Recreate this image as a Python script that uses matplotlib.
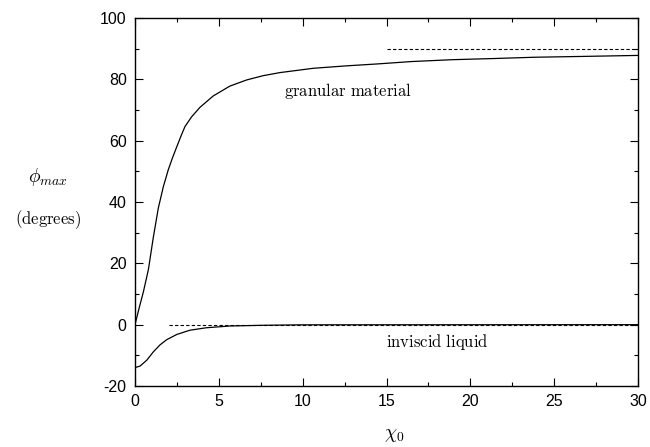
import matplotlib
matplotlib.use("Agg")
import matplotlib.pyplot as plt
from matplotlib.ticker import MultipleLocator

plt.rcParams['mathtext.fontset'] = 'cm'
plt.rcParams['font.family'] = ['Liberation Sans', 'DejaVu Sans']

# granular material curve
gran_x = [0, 0.25, 0.5, 0.8, 1.09, 1.39, 1.69, 1.99, 2.25, 2.49, 2.75, 2.98,
          3.38, 3.88, 4.67, 5.66, 6.66, 7.65, 8.65, 10.63, 12.62, 14.4, 16.5,
          18.9, 21.5, 23.8, 27, 30]
gran_y = [0, 5.5, 10.7, 18.0, 28.4, 38.0, 45.0, 50.6, 54.6, 58.0, 61.6, 64.6,
          67.8, 70.9, 74.6, 77.8, 79.8, 81.2, 82.2, 83.6, 84.4, 85.0, 85.8,
          86.4, 86.8, 87.2, 87.5, 87.8]

# inviscid liquid curve
liq_x = [0, 0.3, 0.7, 1.09, 1.49, 1.89, 2.49, 3.28, 4.27, 5.67, 7.65, 10, 30]
liq_y = [-14.0, -13.5, -11.6, -8.9, -6.6, -4.9, -3.2, -1.8, -1.0, -0.43, -0.2, -0.05, 0]

# asymptotes
asym_gran_x = [15, 30]
asym_gran_y = [90, 90]
asym_liq_x = [2, 30]
asym_liq_y = [0, 0]

xticks = [0, 5, 10, 15, 20, 25, 30]
yticks = [-20, 0, 20, 40, 60, 80, 100]

fig = plt.figure(figsize=(6.5, 4.47), dpi=100)
ax = fig.add_axes([135/650, 1-386/447, (638-135)/650, (386-18)/447])

ax.plot(gran_x, gran_y, color='black', lw=0.9, solid_joinstyle='round')
ax.plot(liq_x, liq_y, color='black', lw=0.9, solid_joinstyle='round')
ax.plot(asym_gran_x, asym_gran_y, color='black', lw=0.8, ls=(0, (3, 2)))
ax.plot(asym_liq_x, asym_liq_y, color='black', lw=0.8, ls=(0, (3, 2)))

ax.set_xlim(0, 30)
ax.set_ylim(-20, 100)
ax.set_xticks(xticks)
ax.set_yticks(yticks)
ax.set_xticklabels([str(t) for t in xticks])
ax.set_yticklabels([str(t) for t in yticks])
ax.xaxis.set_minor_locator(MultipleLocator(2.5))
ax.yaxis.set_minor_locator(MultipleLocator(10))
ax.tick_params(which='both', direction='in', top=True, right=True, labelsize=11.5)
ax.tick_params(which='major', length=6, width=0.8, pad=6)
ax.tick_params(which='minor', length=3, width=0.8)
for s in ax.spines.values():
    s.set_linewidth(1.0)

ax.text(8.9, 76.3, r'$\mathrm{granular\ material}$', fontsize=12, va='center', ha='left')
ax.text(15.0, -5.7, r'$\mathrm{inviscid\ liquid}$', fontsize=12, va='center', ha='left')

fig.text(48/650, 1-177/447, r'$\phi_{max}$', fontsize=14, ha='center', va='center')
fig.text(48/650, 1-220/447, r'$\mathrm{(degrees)}$', fontsize=12, ha='center', va='center')
fig.text(394/650, 1-436/447, r'$\chi_0$', fontsize=14, ha='center', va='center')

fig.savefig('out.png', dpi=100)
